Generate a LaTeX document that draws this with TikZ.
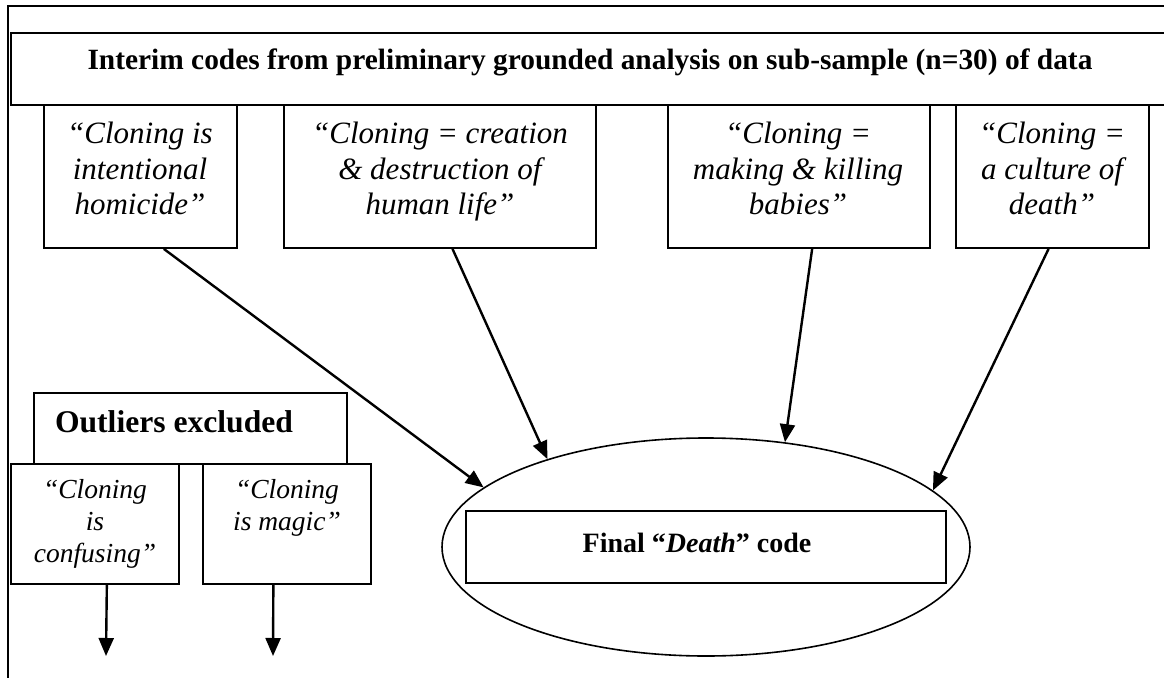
\documentclass[tikz,border=0pt]{standalone}
\usepackage{fontspec}
\setmainfont{Liberation Serif}
\usetikzlibrary{arrows.meta,shapes.geometric,calc}
\tikzset{
  frameline/.style={line width=1.8pt},
  codebox/.style={draw, line width=1.9pt, rectangle, inner sep=0pt, anchor=north west},
  quotetext/.style={align=center, inner sep=0pt, anchor=north, font=\fontsize{31}{35.5}\selectfont\itshape},
  smalltext/.style={align=center, inner sep=0pt, anchor=north, font=\fontsize{27.5}{32}\selectfont\itshape},
  headtext/.style={inner sep=0pt, anchor=base, font=\fontsize{29.4}{33}\selectfont\bfseries},
  arr/.style={line width=2.4pt, -{Triangle[length=18pt,width=15pt]}},
}
\begin{document}
\begin{tikzpicture}[x=1pt,y=-1pt]
\useasboundingbox (0,0) rectangle (1164,677);
\clip (0,0) rectangle (1164,677);
\fill[white] (0,0) rectangle (1164,677);
% outer frame
\coordinate (ftl) at (8,6);
\coordinate (ftr) at (1180,6);
\coordinate (fbl) at (8,690);
\draw[frameline] (ftr) -- (ftl) -- (fbl);
% title box
\node[codebox, minimum width=1160, minimum height=72] (title) at (10,32) {};
\node[headtext] (titletext) at (590,70) {Interim codes from preliminary grounded analysis on sub-sample (n=30) of data};
% code boxes
\node[codebox, minimum width=193, minimum height=143] (b1) at (43,104) {};
\node[codebox, minimum width=312, minimum height=143] (b2) at (283,104) {};
\node[codebox, minimum width=262, minimum height=143] (b3) at (667,104) {};
\node[codebox, minimum width=193, minimum height=143] (b4) at (955,104) {};
\node[quotetext] (t1) at (140,122) {“Cloning is\\intentional\\homicide”};
\node[quotetext] (t2) at (440,122) {“Cloning = creation\\\& destruction of\\human life”};
\node[quotetext] (t3) at (798,122) {“Cloning =\\making \& killing\\babies”};
\node[quotetext] (t4) at (1052,122) {“Cloning =\\a culture of\\death”};
% outliers
\node[codebox, minimum width=313, minimum height=71] (out) at (33,392) {};
\node[headtext, font=\fontsize{31.6}{36}\selectfont\bfseries] (outtext) at (174,432) {Outliers excluded};
\node[codebox, minimum width=168, minimum height=120] (s1) at (10,463) {};
\node[codebox, minimum width=168, minimum height=120] (s2) at (202,463) {};
\node[smalltext] (st1) at (95,479) {“Cloning\\is\\confusing”};
\node[smalltext] (st2) at (287,479) {“Cloning\\is magic”};
\coordinate (e1) at (106,656);
\coordinate (e2) at (273,656);
\draw[arr] ($(s1.south west)!0.57!(s1.south east)$) -- (e1);
\draw[arr] ($(s2.south west)!0.42!(s2.south east)$) -- (e2);
% final
\node[draw, ellipse, line width=1.6pt, inner sep=0pt, minimum width=528, minimum height=218] (ell) at (706,547) {};
\node[draw, rectangle, line width=1.9pt, inner sep=0pt, minimum width=480, minimum height=72] (fin) at (706,547) {};
\node[headtext, font=\fontsize{28}{33}\selectfont\bfseries] (fintext) at (697,552) {Final “\textit{Death}” code};
% arrows
\draw[arr] ($(b1.south west)!0.62!(b1.south east)$) -- (ell.165.4);
\draw[arr] ($(b2.south west)!0.54!(b2.south east)$) -- (ell.151.9);
\draw[arr] ($(b3.south west)!0.55!(b3.south east)$) -- (ell.53.4);
\draw[arr] ($(b4.south west)!0.48!(b4.south east)$) -- (ell.14.9);
\end{tikzpicture}
\end{document}
